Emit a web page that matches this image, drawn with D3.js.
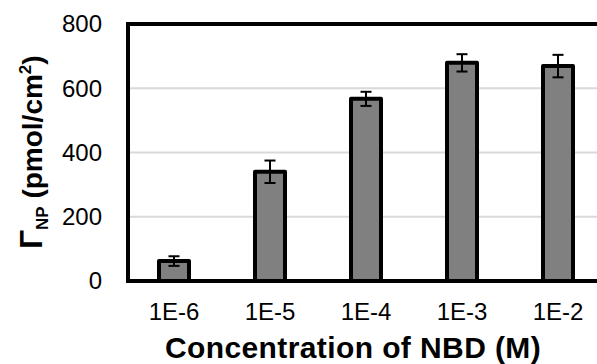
<!DOCTYPE html>
<html>
<head>
<meta charset="utf-8">
<script src="https://cdn.jsdelivr.net/npm/d3@7/dist/d3.min.js"></script>
<style>
  html, body { margin: 0; padding: 0; background: #fff; }
  svg { display: block; }
  text { font-family: "Liberation Sans", Arial, sans-serif; fill: #000; }
</style>
</head>
<body>
<svg id="chart" width="597" height="364"></svg>
<script>
// NBD concentration series: surface coverage with standard deviation
const categories = ["1E-6", "1E-5", "1E-4", "1E-3", "1E-2"];
const coverage = [62, 340, 567, 679, 669];
const errors = [15, 35, 22, 27, 35];
const yTicks = [0, 200, 400, 600, 800];

const svg = d3.select("#chart");
const W = 597, H = 364;

const x = d3.scaleBand().domain(categories).range([126, 606]).padding(0);
const y = d3.scaleLinear().domain([0, 800]).range([281, 24]);
const barW = x.bandwidth() * 0.3125;

// horizontal gridlines
svg.append("g")
  .selectAll("line")
  .data(yTicks.filter(d => d > 0 && d < 800))
  .join("line")
  .attr("x1", 128).attr("x2", W)
  .attr("y1", d => y(d)).attr("y2", d => y(d))
  .attr("stroke", "#d9d9d9").attr("stroke-width", 2);

// plot frame
svg.append("rect")
  .attr("x", 128).attr("y", y(800))
  .attr("width", 500).attr("height", y(0) - y(800))
  .attr("fill", "none").attr("stroke", "#000").attr("stroke-width", 4);

// bars
svg.append("g")
  .selectAll("rect")
  .data(coverage)
  .join("rect")
  .attr("x", (d, i) => x(categories[i]) + x.bandwidth() / 2 - barW / 2)
  .attr("y", d => y(d))
  .attr("width", barW)
  .attr("height", d => y(0) - y(d))
  .attr("fill", "#808080")
  .attr("stroke", "#000")
  .attr("stroke-width", 4)
  .attr("stroke-linejoin", "round");

// error bars
const capW = 11;
const eb = svg.append("g").attr("stroke", "#000").attr("stroke-width", 2);
coverage.forEach((v, i) => {
  const cx = x(categories[i]) + x.bandwidth() / 2;
  const lo = y(v - errors[i]), hi = y(v + errors[i]);
  eb.append("line").attr("x1", cx).attr("x2", cx).attr("y1", lo).attr("y2", hi);
  eb.append("line").attr("x1", cx - capW / 2).attr("x2", cx + capW / 2).attr("y1", lo).attr("y2", lo);
  eb.append("line").attr("x1", cx - capW / 2).attr("x2", cx + capW / 2).attr("y1", hi).attr("y2", hi);
});

// y tick labels
svg.append("g")
  .selectAll("text")
  .data(yTicks)
  .join("text")
  .attr("x", 102)
  .attr("y", d => y(d))
  .attr("dy", "0.35em")
  .attr("text-anchor", "end")
  .attr("font-size", 24)
  .text(d => d);

// x tick labels
svg.append("g")
  .selectAll("text")
  .data(categories)
  .join("text")
  .attr("x", d => x(d) + x.bandwidth() / 2)
  .attr("y", 320)
  .attr("text-anchor", "middle")
  .attr("font-size", 24)
  .text(d => d);

// x axis title
svg.append("text")
  .attr("x", 353)
  .attr("y", 358)
  .attr("text-anchor", "middle")
  .attr("font-size", 30)
  .attr("font-weight", "bold")
  .attr("letter-spacing", 0.4)
  .text("Concentration of NBD (M)");

// y axis title with subscript and superscript
const yt = svg.append("text")
  .attr("transform", "translate(42,152) rotate(-90)")
  .attr("text-anchor", "middle")
  .attr("font-size", 28)
  .attr("font-weight", "bold");
yt.append("tspan").attr("font-size", 31).text("Γ");
yt.append("tspan").attr("font-size", 17).attr("dy", 6).text("NP");
yt.append("tspan").attr("dy", -6).text(" (pmol/cm");
yt.append("tspan").attr("font-size", 17).attr("dy", -11).text("2");
yt.append("tspan").attr("dy", 11).text(")");
</script>
</body>
</html>
